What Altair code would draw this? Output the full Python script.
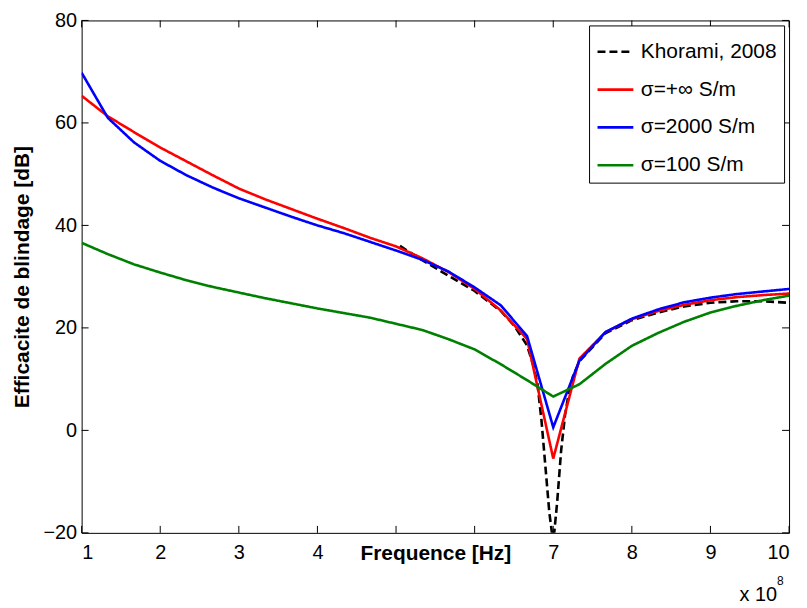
import altair as alt
import pandas as pd

# x values in units of 1e8 Hz
x_sim = [1.0, 1.333, 1.667, 2.0, 2.333, 2.667, 3.0, 3.333, 3.667, 4.0, 4.333, 4.667,
         5.0, 5.333, 5.667, 6.0, 6.333, 6.667, 7.0, 7.333, 7.667, 8.0, 8.333, 8.667,
         9.0, 9.333, 9.667, 10.0]
red_inf = [65.3, 61.3, 58.2, 55.2, 52.5, 49.8, 47.2, 45.1, 43.2, 41.3, 39.5, 37.6,
           35.9, 33.6, 30.9, 27.6, 23.4, 17.8, -5.5, 14.0, 19.2, 21.7, 23.3, 24.5,
           25.4, 26.0, 26.4, 26.7]
blue_2000 = [69.8, 61.0, 56.2, 52.6, 49.8, 47.4, 45.3, 43.5, 41.7, 40.0, 38.5, 36.8,
             35.1, 33.3, 31.0, 27.9, 24.4, 18.4, 0.6, 13.6, 19.2, 21.8, 23.6, 25.0,
             25.9, 26.6, 27.1, 27.6]
green_100 = [36.6, 34.4, 32.4, 30.8, 29.3, 28.0, 26.9, 25.8, 24.8, 23.8, 22.9, 22.0,
             20.8, 19.6, 17.8, 15.8, 12.9, 9.8, 6.6, 9.0, 13.0, 16.5, 19.0, 21.2,
             23.0, 24.3, 25.4, 26.3]
x_kh = [5.05, 5.333, 5.667, 6.0, 6.333, 6.5, 6.667, 6.75, 6.8, 6.85, 6.9, 6.95, 7.0,
        7.05, 7.1, 7.15, 7.2, 7.25, 7.333, 7.667, 8.0, 8.333, 8.667, 9.0, 9.333,
        9.667, 10.0]
khorami = [36.0, 33.2, 30.2, 27.2, 23.3, 20.5, 16.6, 12.5, 9.0, 2.0, -7.0, -16.0, -22.0,
           -14.0, -4.0, 3.0, 7.5, 10.5, 13.5, 19.0, 21.5, 23.0, 24.2, 24.9, 25.2,
           25.2, 24.9]

series_names = ["Khorami, 2008", "σ=+∞ S/m", "σ=2000 S/m", "σ=100 S/m"]
series_colors = ["#000000", "#ff0000", "#0000ff", "#008000"]
x_ticks = [1, 2, 3, 4, 5, 6, 7, 8, 9, 10]
x_labels = [1, 2, 3, 4, 7, 8, 9, 10]
y_ticks = [-20, 0, 20, 40, 60, 80]

rows = []
for xv, yv in zip(x_kh, khorami):
    rows.append({"x": xv, "y": yv, "s": series_names[0]})
for name, vals in zip(series_names[1:], [red_inf, blue_2000, green_100]):
    for xv, yv in zip(x_sim, vals):
        rows.append({"x": xv, "y": yv, "s": name})
df = pd.DataFrame(rows)

W, H = 711, 515
FONT = "Liberation Sans"
TL = 7

xscale = alt.Scale(domain=[1, 10], nice=False, zero=False)
yscale = alt.Scale(domain=[-20, 80], nice=False, zero=False)

lines = alt.Chart(df).mark_line(strokeWidth=2.6, clip=True).encode(
    x=alt.X("x:Q", scale=xscale,
            axis=alt.Axis(values=x_labels, title="Frequence [Hz]", format="d",
                          titleY=21, titleBaseline="middle")),
    y=alt.Y("y:Q", scale=yscale,
            axis=alt.Axis(values=y_ticks, title="Efficacite de blindage [dB]", format="d")),
    color=alt.Color("s:N", scale=alt.Scale(domain=series_names, range=series_colors),
                    legend=alt.Legend(title=None)),
    strokeDash=alt.StrokeDash("s:N", scale=alt.Scale(domain=series_names,
                                                     range=[[8, 4], [1, 0], [1, 0], [1, 0]]),
                              legend=alt.Legend(title=None)),
    order=alt.Order("x:Q"),
)

xt = pd.DataFrame({"v": x_ticks})
yt = pd.DataFrame({"v": y_ticks})
tb = alt.Chart(xt).mark_rule(color="black", strokeWidth=1).encode(
    x=alt.X("v:Q", scale=xscale), y=alt.value(H), y2=alt.value(H - TL))
tt = alt.Chart(xt).mark_rule(color="black", strokeWidth=1).encode(
    x=alt.X("v:Q", scale=xscale), y=alt.value(0), y2=alt.value(TL))
tl = alt.Chart(yt).mark_rule(color="black", strokeWidth=1).encode(
    y=alt.Y("v:Q", scale=yscale), x=alt.value(0), x2=alt.value(TL))
tr = alt.Chart(yt).mark_rule(color="black", strokeWidth=1).encode(
    y=alt.Y("v:Q", scale=yscale), x=alt.value(W), x2=alt.value(W - TL))

mult = alt.Chart(pd.DataFrame({"t": ["x 10"]})).mark_text(
    font=FONT, fontSize=20, align="right", baseline="alphabetic", color="black"
).encode(text="t:N", x=alt.value(699), y=alt.value(583))
sup = alt.Chart(pd.DataFrame({"t": ["8"]})).mark_text(
    font=FONT, fontSize=12, align="left", baseline="alphabetic", color="black"
).encode(text="t:N", x=alt.value(699), y=alt.value(567))

chart = alt.layer(lines, tb, tt, tl, tr, mult, sup).properties(
    width=W, height=H,
    autosize=alt.AutoSizeParams(type="none"),
    padding={"left": 74, "top": 11, "right": 10, "bottom": 73},
).configure_view(
    stroke="black", strokeWidth=1
).configure_axis(
    domain=False, ticks=False, grid=False,
    labelFont=FONT, labelFontSize=20, labelColor="black",
    titleFont=FONT, titleFontSize=21, titleFontWeight="bold", titleColor="black",
).configure_axisX(
    labelPadding=10,
).configure_axisY(
    labelPadding=5, titlePadding=10,
).configure_legend(
    orient="top-right", offset=5, fillColor="white", strokeColor="black",
    padding=7, labelFont=FONT, labelFontSize=21, labelColor="black",
    symbolType="stroke", symbolSize=1296, symbolStrokeWidth=2.6,
    rowPadding=8, labelOffset=6, labelLimit=300,
)

chart.save("out.html", embed_options={"renderer": "svg", "actions": False})
